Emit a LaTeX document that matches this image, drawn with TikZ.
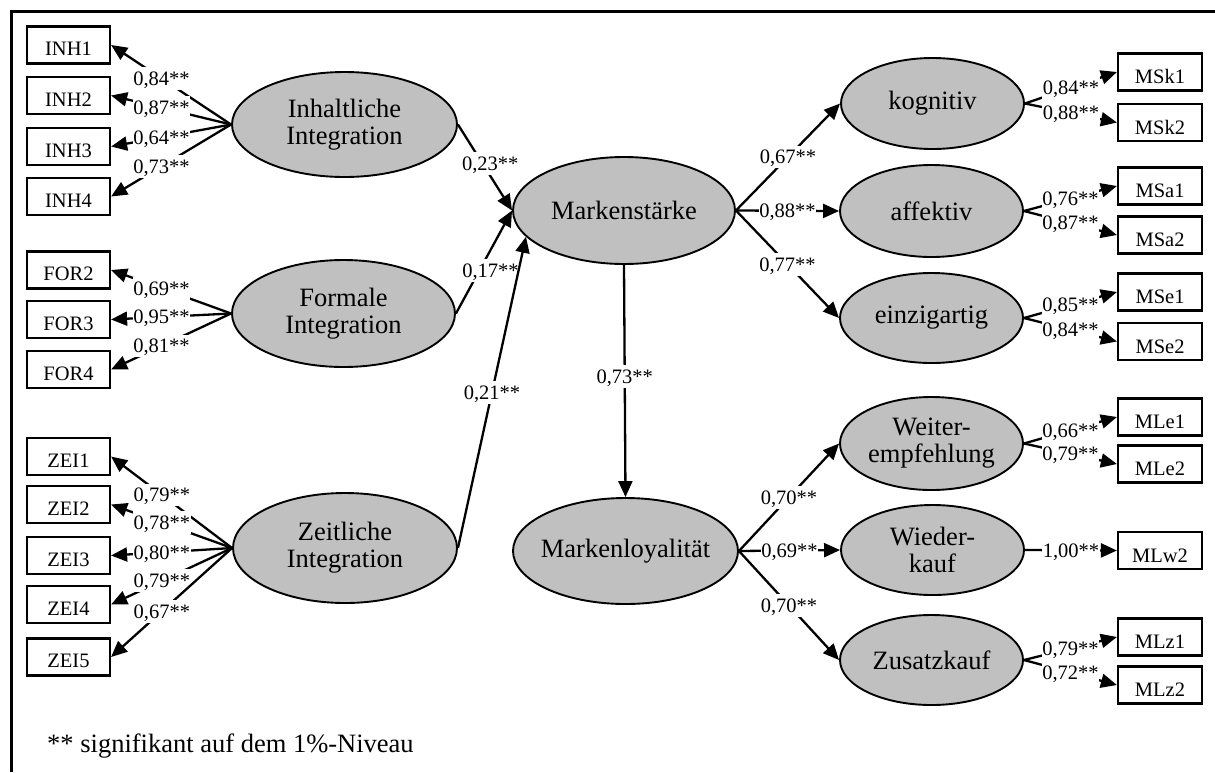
\documentclass[tikz,border=0pt]{standalone}
\usepackage{fontspec}
\setmainfont{Liberation Serif}
\usetikzlibrary{shapes.geometric,arrows.meta}
\definecolor{latgray}{HTML}{C0C0C0}
\newcommand\zb[1]{\makebox[0pt]{#1}}
\begin{document}
\begin{tikzpicture}[x=1pt,y=-1pt,
  latent/.style={ellipse,draw,line width=1.9pt,fill=latgray,inner sep=0pt,align=center,
    font=\fontsize{26.5}{27}\selectfont},
  indl/.style={rectangle,draw,line width=2.2pt,minimum width=83pt,minimum height=37pt,
    inner sep=0pt,text height=21.6pt,text depth=0pt,font=\fontsize{20.5}{22}\selectfont},
  indr/.style={indl,minimum width=84pt,text height=23.6pt},
  arr/.style={line width=2.3pt,-{Triangle[length=16pt,width=14pt]}},
  lab/.style={fill=white,inner xsep=0.5pt,inner ysep=0pt,text height=18.3pt,text depth=4.4pt,
    font=\fontsize{20.5}{22}\selectfont},
]
\useasboundingbox (0,0) rectangle (1215,772);
\draw[line width=2.4pt] (11.5,772) -- (11.5,11.5) -- (1215,11.5);

% ---------- left indicators ----------
\node[indl] (INH1) at (68.5,45) {INH1};
\node[indl] (INH2) at (68.5,95.5) {INH2};
\node[indl] (INH3) at (68.5,146.5) {INH3};
\node[indl] (INH4) at (68.5,196.5) {INH4};
\node[indl] (FOR2) at (68.5,270) {FOR2};
\node[indl] (FOR3) at (68.5,319.5) {FOR3};
\node[indl] (FOR4) at (68.5,369.5) {FOR4};
\node[indl] (ZEI1) at (68.5,456.5) {ZEI1};
\node[indl] (ZEI2) at (68.5,504.5) {ZEI2};
\node[indl] (ZEI3) at (68.5,555.5) {ZEI3};
\node[indl] (ZEI4) at (68.5,604.5) {ZEI4};
\node[indl] (ZEI5) at (68.5,657) {ZEI5};

% ---------- right indicators ----------
\node[indr] (MSk1) at (1160,72) {MSk1};
\node[indr] (MSk2) at (1160,122.5) {MSk2};
\node[indr] (MSa1) at (1160,186) {MSa1};
\node[indr] (MSa2) at (1160,235) {MSa2};
\node[indr] (MSe1) at (1160,292) {MSe1};
\node[indr] (MSe2) at (1160,341.5) {MSe2};
\node[indr] (MLe1) at (1160,417) {MLe1};
\node[indr] (MLe2) at (1160,464) {MLe2};
\node[indr] (MLw2) at (1160,550.5) {MLw2};
\node[indr] (MLz1) at (1160,637) {MLz1};
\node[indr] (MLz2) at (1160,685) {MLz2};

% ---------- latent variables ----------
\node[latent,minimum width=225pt,minimum height=105pt] (inh) at (344.5,124.5) {\zb{Inhaltliche}\\\zb{Integration}};
\node[latent,minimum width=223pt,minimum height=107pt] (form) at (343.5,313.5) {\zb{Formale}\\\zb{Integration}};
\node[latent,minimum width=224pt,minimum height=110pt] (zeit) at (345,548) {\zb{Zeitliche}\\\zb{Integration}};
\node[latent,minimum width=222pt,minimum height=107pt] (ms) at (624,210.5) {\zb{Markenstärke}};
\node[latent,minimum width=225pt,minimum height=106pt] (ml) at (625.5,551) {\zb{Markenloyalität}};
\node[latent,minimum width=183pt,minimum height=91pt] (ko) at (932.5,103.5) {\zb{kognitiv}};
\node[latent,minimum width=183pt,minimum height=92pt] (af) at (931.5,211) {\zb{affektiv}};
\node[latent,minimum width=183pt,minimum height=90pt] (ei) at (931.5,318) {\zb{einzigartig}};
\node[latent,minimum width=183pt,minimum height=93pt] (we) at (931.5,443.5) {\zb{Weiter-}\\\zb{empfehlung}};
\node[latent,minimum width=183pt,minimum height=90pt] (wk) at (932.5,550) {\zb{Wieder-}\\\zb{kauf}};
\node[latent,minimum width=183pt,minimum height=90pt] (zk) at (931.5,660) {\zb{Zusatzkauf}};

% ---------- left loadings ----------
\draw[arr] (inh.west) -- node[lab,pos=0.58] {0,84**} (INH1.east);
\draw[arr] (inh.west) -- node[lab,pos=0.58] {0,87**} (INH2.east);
\draw[arr] (inh.west) -- node[lab,pos=0.58] {0,64**} (INH3.east);
\draw[arr] (inh.west) -- node[lab,pos=0.58] {0,73**} (INH4.east);
\draw[arr] (form.west) -- node[lab,pos=0.58] {0,69**} (FOR2.east);
\draw[arr] (form.west) -- node[lab,pos=0.58] {0,95**} (FOR3.east);
\draw[arr] (form.west) -- node[lab,pos=0.58] {0,81**} (FOR4.east);
\draw[arr] (zeit.west) -- node[lab,pos=0.58] {0,79**} (ZEI1.east);
\draw[arr] (zeit.west) -- node[lab,pos=0.58] {0,78**} (ZEI2.east);
\draw[arr] (zeit.west) -- node[lab,pos=0.58] {0,80**} (ZEI3.east);
\draw[arr] (zeit.west) -- node[lab,pos=0.58] {0,79**} (ZEI4.east);
\draw[arr] (zeit.west) -- node[lab,pos=0.58] {0,67**} (ZEI5.east);

% ---------- structural paths ----------
\draw[arr] (inh.east) -- node[lab,pos=0.45,xshift=8pt] {0,23**} (ms.west);
\draw[arr] (form.east) -- node[lab,pos=0.42,xshift=11pt] {0,17**} (ms.west);
\draw[arr] (zeit.east) -- node[lab,pos=0.5] {0,21**} (ms.195);
\draw[arr] (ms.south) -- node[lab,pos=0.48] {0,73**} (ml.north);

\draw[arr] (ms.east) -- node[lab] {0,67**} (ko.west);
\draw[arr] (ms.east) -- node[lab] {0,88**} (af.west);
\draw[arr] (ms.east) -- node[lab] {0,77**} (ei.west);
\draw[arr] (ml.east) -- node[lab] {0,70**} (we.west);
\draw[arr] (ml.east) -- node[lab] {0,69**} (wk.west);
\draw[arr] (ml.east) -- node[lab] {0,70**} (zk.west);

% ---------- right loadings ----------
\draw[arr] (ko.east) -- node[lab] {0,84**} (MSk1.west);
\draw[arr] (ko.east) -- node[lab] {0,88**} (MSk2.west);
\draw[arr] (af.east) -- node[lab] {0,76**} (MSa1.west);
\draw[arr] (af.east) -- node[lab] {0,87**} (MSa2.west);
\draw[arr] (ei.east) -- node[lab] {0,85**} (MSe1.west);
\draw[arr] (ei.east) -- node[lab] {0,84**} (MSe2.west);
\draw[arr] (we.east) -- node[lab] {0,66**} (MLe1.west);
\draw[arr] (we.east) -- node[lab] {0,79**} (MLe2.west);
\draw[arr] (wk.east) -- node[lab] {1,00**} (MLw2.west);
\draw[arr] (zk.east) -- node[lab] {0,79**} (MLz1.west);
\draw[arr] (zk.east) -- node[lab] {0,72**} (MLz2.west);

% ---------- footnote ----------
\node[anchor=base west,inner sep=0pt,font=\fontsize{26.5}{27}\selectfont] (note) at (47,752) {** signifikant auf dem 1\%-Niveau};
\end{tikzpicture}
\end{document}
